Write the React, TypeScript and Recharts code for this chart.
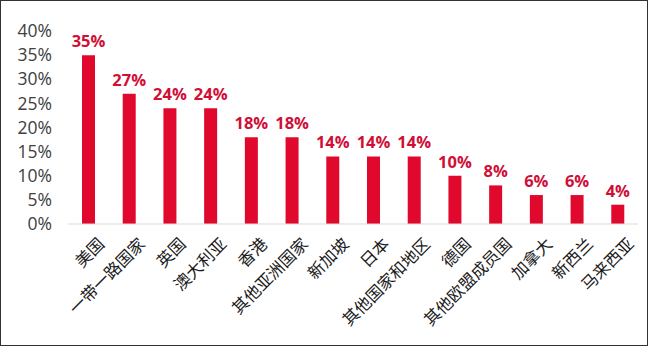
import React from 'react';
import { BarChart, Bar, XAxis, YAxis, LabelList } from 'recharts';

// Share by destination (%)
const regions = ['美国', '一带一路国家', '英国', '澳大利亚', '香港', '其他亚洲国家', '新加坡', '日本', '其他国家和地区', '德国', '其他欧盟成员国', '加拿大', '新西兰', '马来西亚'];
const shares = [35, 27, 24, 24, 18, 18, 14, 14, 14, 10, 8, 6, 6, 4];
const yTicks = [0, 5, 10, 15, 20, 25, 30, 35, 40];

const data = regions.map((name, i) => ({ name, value: shares[i] }));

const RED = '#E0082D';

const RotatedTick = (props: any) => {
  const { x, y, payload } = props;
  return (
    <g transform={`translate(${x + 9},${y + 5})`}>
      <text
        x={0}
        y={0}
        dy="0.7em"
        textAnchor="end"
        transform="rotate(-45)"
        fill="#1a1a1a"
        fontSize={16.5}
        fontFamily="'Noto Sans CJK SC', sans-serif"
      >
        {payload.value}
      </text>
    </g>
  );
};

const App: React.FC = () => {
  return (
    <div style={{ position: 'fixed', top: 0, left: 0, width: 648, height: 346, background: '#fff' }}>
      <BarChart
        width={648}
        height={346}
        data={data}
        margin={{ top: 31, right: 10, left: 0, bottom: 0 }}
        barCategoryGap={14}
      >
        <YAxis
          width={68}
          domain={[0, 40]}
          ticks={yTicks}
          interval={0}
          tickFormatter={(v: number) => `${v}%`}
          axisLine={false}
          tickLine={false}
          tickSize={0}
          tickMargin={16}
          tick={{ fill: '#404040', fontSize: 17.5, fontFamily: "'Open Sans', sans-serif" }}
        />
        <XAxis
          dataKey="name"
          interval={0}
          height={122}
          axisLine={{ stroke: '#d9d9d9' }}
          tickLine={false}
          tick={<RotatedTick />}
        />
        <Bar dataKey="value" fill={RED} barSize={13} isAnimationActive={false}>
          <LabelList
            dataKey="value"
            position="top"
            offset={8}
            formatter={(v: number) => `${v}%`}
            style={{ fill: '#D10F36', fontSize: 16.5, fontWeight: 700, fontFamily: "'Open Sans', sans-serif" }}
          />
        </Bar>
      </BarChart>
      <div style={{ position: 'absolute', inset: 0, border: '1px solid #333', pointerEvents: 'none' }} />
    </div>
  );
};

export default App;
